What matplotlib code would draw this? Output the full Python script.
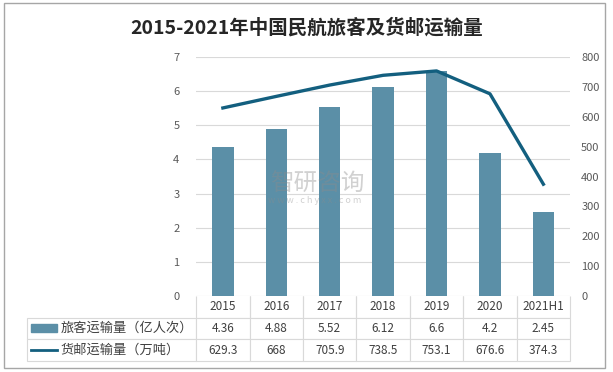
import matplotlib.pyplot as plt
from matplotlib.patches import Rectangle
from matplotlib.lines import Line2D

plt.rcParams['font.family'] = ['Noto Sans CJK SC', 'DejaVu Sans']

years = ["2015", "2016", "2017", "2018", "2019", "2020", "2021H1"]
passengers = [4.36, 4.88, 5.52, 6.12, 6.6, 4.2, 2.45]
cargo = [629.3, 668, 705.9, 738.5, 753.1, 676.6, 374.3]
passenger_labels = ["4.36", "4.88", "5.52", "6.12", "6.6", "4.2", "2.45"]
cargo_labels = ["629.3", "668", "705.9", "738.5", "753.1", "676.6", "374.3"]
row_names = ["旅客运输量（亿人次）", "货邮运输量（万吨）"]

bar_color = "#5b8fa7"
line_color = "#135f7f"
grid_color = "#d9d9d9"
text_color = "#595959"

fig = plt.figure(figsize=(6.13, 3.72), dpi=100)
fig.patches.append(Rectangle((0.007, 0.011), 0.98, 0.982, transform=fig.transFigure,
                             fill=False, edgecolor="#a6a6a6", linewidth=1))

ax = fig.add_axes([0.320, 0.204, 0.610, 0.643])
x = range(len(years))
ax.bar(x, passengers, width=0.4, color=bar_color, zorder=2)
ax.set_xlim(-0.5, len(years) - 0.5)
ax.set_ylim(0, 7)
ax.set_yticks(range(0, 8))
ax.yaxis.grid(True, color=grid_color, linewidth=0.8, zorder=0)
ax.set_xticks([])
for s in ax.spines.values():
    s.set_visible(False)
ax.tick_params(axis='y', length=0, labelsize=8, labelcolor=text_color, pad=12)

ax2 = ax.twinx()
ax2.plot(x, cargo, color=line_color, linewidth=2.4, zorder=3)
ax2.set_ylim(0, 800)
ax2.set_yticks(range(0, 801, 100))
for s in ax2.spines.values():
    s.set_visible(False)
ax2.tick_params(axis='y', length=0, labelsize=8, labelcolor=text_color, pad=8)

fig.text(0.5, 0.925, "2015-2021年中国民航旅客及货邮运输量", ha="center", va="center",
         fontsize=14, fontweight="bold", color="#262626")

# watermark
fig.text(0.44, 0.505, "智研咨询", ha="left", va="center", fontsize=17, color="#8c8c8c", alpha=0.4)
fig.text(0.438, 0.462, "w w w . c h y x x . c o m", ha="left", va="center", fontsize=6.5,
         color="#8c8c8c", alpha=0.4)

# data table below the plot
cell_text = [[""] + years,
             [row_names[0]] + passenger_labels,
             [row_names[1]] + cargo_labels]
col_w = 1.0 / len(years)
label_w = 0.452
tbl = ax.table(cellText=cell_text, cellLoc="center",
               colWidths=[label_w] + [col_w] * len(years),
               bbox=[-label_w, -0.272, 1 + label_w, 0.272])
tbl.auto_set_font_size(False)
for (r, c), cell in tbl.get_celld().items():
    cell.set_edgecolor(grid_color)
    cell.set_linewidth(0.8)
    cell.get_text().set_fontsize(8.5)
    cell.get_text().set_color("#404040")
    if r == 0 and c == 0:
        cell.visible_edges = ""
    elif r == 0:
        cell.visible_edges = "LRB"
    if c == 0 and r > 0:
        cell.get_text().set_ha("left")
        cell.PAD = 0.2
        cell.get_text().set_fontsize(9.5)

# legend keys inside the table row labels
ax.add_patch(Rectangle((-0.441, -0.148), 0.07, 0.03, transform=ax.transAxes,
                       color=bar_color, clip_on=False))
ax.add_line(Line2D([-0.441, -0.371], [-0.226, -0.226], transform=ax.transAxes,
                   color=line_color, linewidth=2, clip_on=False))

fig.savefig("out.png", dpi=100)
